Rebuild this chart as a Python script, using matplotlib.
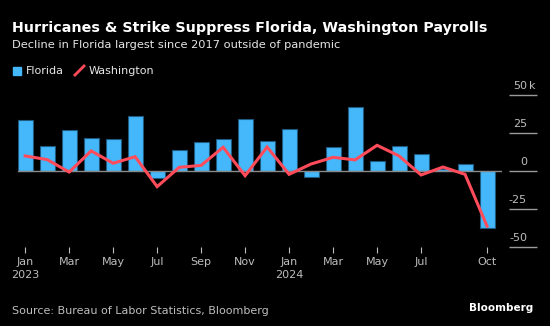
import numpy as np
import matplotlib.pyplot as plt
from matplotlib.transforms import blended_transform_factory

# Monthly payroll change, thousands of jobs
months = ['Jan', 'Feb', 'Mar', 'Apr', 'May', 'Jun', 'Jul', 'Aug', 'Sep', 'Oct', 'Nov', 'Dec',
          'Jan', 'Feb', 'Mar', 'Apr', 'May', 'Jun', 'Jul', 'Aug', 'Sep', 'Oct']
florida = [33.4, 16.7, 27.0, 21.5, 20.9, 36.0, -4.4, 13.6, 19.1, 20.9, 34.3, 19.6,
           27.9, -4.2, 16.0, 42.0, 6.6, 16.5, 11.2, 1.5, 4.4, -37.8]
washington = [9.9, 7.5, -0.7, 13.2, 5.1, 9.4, -10.3, 2.4, 3.7, 15.6, -3.1, 15.8,
              -2.2, 4.6, 9.0, 7.3, 16.9, 9.9, -2.6, 2.6, -2.2, -36.3]

tick_idx = [0, 2, 4, 6, 8, 10, 12, 14, 16, 18, 21]
tick_labels = ['Jan\n2023', 'Mar', 'May', 'Jul', 'Sep', 'Nov', 'Jan\n2024', 'Mar', 'May', 'Jul', 'Oct']
y_ticks = [50, 25, 0, -25, -50]

BG = '#000000'
BLUE = '#44b8fa'
RED = '#ff4b5a'
GREY = '#bdbdbd'

plt.rcParams['font.family'] = 'DejaVu Sans'

fig = plt.figure(figsize=(5.5, 3.26), dpi=100, facecolor=BG)
ax = fig.add_axes([17.7 / 550, 79 / 326, 484.3 / 550, 152 / 326], facecolor=BG)

x = np.arange(len(months))
ax.bar(x, florida, width=0.68, color=BLUE, edgecolor='#1f5a80', linewidth=0.8, zorder=2)
ax.axhline(0, color='#8a8a8a', linewidth=1.0, zorder=3)
ax.plot(x, washington, color=RED, linewidth=2.2, solid_joinstyle='miter', zorder=4)

ax.set_xlim(-0.34, 21.68)
ax.set_ylim(-50, 50)

for s in ax.spines.values():
    s.set_visible(False)

# x ticks: short marks below the plot
ax.set_xticks(x[tick_idx])
ax.set_xticklabels(tick_labels, color=GREY, fontsize=8, linespacing=1.45)
ax.tick_params(axis='x', length=4, width=0.8, color=GREY, direction='out', pad=3)

# y ticks on the right, labels sit above each tick line
ax.spines['right'].set_position(('outward', 5))
ax.yaxis.tick_right()
ax.set_yticks(y_ticks)
ax.set_yticklabels([])
ax.tick_params(axis='y', length=20, width=1.0, color='#9a9a9a', direction='out')
trans = blended_transform_factory(fig.transFigure, ax.transData)
for v in y_ticks:
    ax.text(527 / 550, v + 2.5, str(v), transform=trans, ha='right', va='bottom',
            color=GREY, fontsize=8, clip_on=False)
ax.text(529 / 550, 52.5, 'k', transform=trans, ha='left', va='bottom',
        color=GREY, fontsize=8, clip_on=False)

# titles
fig.text(12 / 550, 1 - 28 / 326, 'Hurricanes & Strike Suppress Florida, Washington Payrolls',
         color='white', fontsize=10.3, fontweight='bold', va='center')
fig.text(12 / 550, 1 - 45 / 326, 'Decline in Florida largest since 2017 outside of pandemic',
         color='#e6e6e6', fontsize=8.2, va='center')

# legend
fig.patches.append(plt.Rectangle((13 / 550, 1 - 75 / 326), 8 / 550, 8 / 326,
                                 transform=fig.transFigure, color=BLUE))
fig.text(26 / 550, 1 - 70.5 / 326, 'Florida', color='#e6e6e6', fontsize=8, va='center')
fig.lines.append(plt.Line2D([75 / 550, 84 / 550], [1 - 75 / 326, 1 - 66 / 326],
                            transform=fig.transFigure, color=RED, linewidth=2))
fig.text(89 / 550, 1 - 70.5 / 326, 'Washington', color='#e6e6e6', fontsize=8, va='center')

# footer
fig.text(12 / 550, 1 - 311 / 326, 'Source: Bureau of Labor Statistics, Bloomberg',
         color=GREY, fontsize=8, va='center')
fig.text(533 / 550, 1 - 308 / 326, 'Bloomberg', color='white', fontsize=7.5,
         fontweight='bold', ha='right', va='center')

fig.savefig('out.png', dpi=100, facecolor=BG)
